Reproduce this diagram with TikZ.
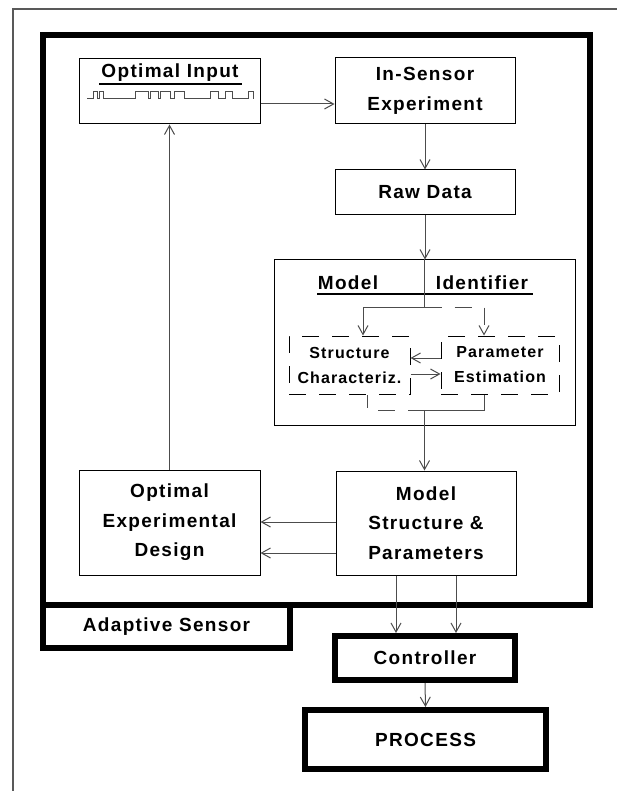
\documentclass[tikz,border=0pt]{standalone}
\usepackage{fontspec}
\setmainfont{Liberation Sans}[LetterSpace=7]
\usetikzlibrary{arrows.meta}
\definecolor{mygray}{rgb}{0.3,0.3,0.3}
\definecolor{myframe}{rgb}{0.35,0.35,0.35}

\begin{document}
\begin{tikzpicture}[x=1pt,y=-1pt,
  box/.style={draw,line width=1pt,align=center,inner sep=0pt,
    font=\bfseries\fontsize{19}{29.5}\selectfont},
  thickbox/.style={box,line width=6pt},
  dbox/.style={draw,line width=1pt,dash pattern=on 17pt off 13pt,align=center,inner sep=0pt,
    font=\bfseries\fontsize{16}{25}\selectfont},
  link/.style={mygray,line width=1pt,-{Straight Barb[length=9pt,width=10pt]}},
  dlink/.style={link,dash pattern=on 17pt off 13pt}]
  \useasboundingbox (0,0) rectangle (617,791);
  \draw[myframe,line width=1.5pt] (13,791) -- (13,9) -- (617,9);
  % adaptive sensor
  \draw[line width=6.5pt] (43,35) rectangle (590,605);
  \node[thickbox,minimum width=247pt,minimum height=43pt] (sensor) at (166.5,626.5) {Adaptive Sensor};
  % optimal input with its test signal
  \node[box,minimum width=181pt,minimum height=65pt] (input) at (169.5,91.5) {};
  \node[font=\bfseries\fontsize{19}{22}\selectfont] (inputtitle) at (170,73) {Optimal Input};
  \draw[line width=2pt] (99,84) -- (242,84);
  \draw[mygray,line width=1pt] (87,99) -| (93,92) -| (97,99) -| (99,92) -| (103,99)
    -| (135,92) -| (148,99) -| (150,92) -| (158,99) -| (160,92) -| (170,99)
    -| (174,92) -| (184,99) -| (210,92) -| (218,99) -| (225,92) -| (232,99)
    -| (248,92) -| (253,99);
  \node[box,minimum width=180pt,minimum height=66pt] (experiment) at (425,91) {In-Sensor\\Experiment};
  \node[box,minimum width=180pt,minimum height=45pt] (rawdata) at (425,192.5) {Raw Data};
  % model identifier
  \node[box,minimum width=301pt,minimum height=165pt] (identifier) at (424.5,342.5) {};
  \node[font=\bfseries\fontsize{19}{22}\selectfont] (idleft) at (348,283) {Model};
  \node[font=\bfseries\fontsize{19}{22}\selectfont] (idright) at (482,283) {Identifier};
  \draw[line width=2pt] (317,294) -- (533,294);
  \node[dbox,minimum width=121pt,minimum height=58pt] (structure) at (349.5,365) {Structure\\Characteriz.};
  \node[dbox,minimum width=118pt,minimum height=58pt] (parameter) at (500,365) {Parameter\\Estimation};
  \coordinate (split) at (424.5,307);
  \coordinate (join) at (424.5,410);
  \node[box,minimum width=181pt,minimum height=105pt] (design) at (169.5,522.5) {Optimal\\Experimental\\Design};
  \node[box,minimum width=180pt,minimum height=104pt] (model) at (426,523) {Model\\Structure \&\\Parameters};
  \node[thickbox,minimum width=180pt,minimum height=44pt] (controller) at (425,658) {Controller};
  \node[thickbox,minimum width=241pt,minimum height=59pt] (process) at (425.5,739.5) {PROCESS};
  % connectors
  \draw[link] ([yshift=-12.5pt]input.east) -- ([yshift=-12.5pt]input.east -| experiment.west);
  \draw[link] (experiment.south) -- (rawdata.north);
  \draw[link] (rawdata.south) -- (rawdata.south |- identifier.north);
  \draw[link] (identifier.north) -- (split) -| ([xshift=13.5pt]structure.north);
  \draw[dlink] (split) -| ([xshift=-16pt]parameter.north);
  \draw[link] ([yshift=7pt]parameter.west) -- ([yshift=7pt]structure.east);
  \draw[link] ([yshift=-9pt]structure.east) -- ([yshift=-9pt]parameter.west);
  \draw[mygray,line width=1pt] ([xshift=-16pt]parameter.south) |- (join);
  \draw[mygray,line width=1pt,dash pattern=on 17pt off 13pt] (join) -| ([xshift=17.5pt]structure.south);
  \draw[link] (join) -- (join |- model.north);
  \draw[link] ([yshift=1pt]model.west) -- ([yshift=1pt]model.west -| design.east);
  \draw[link] ([yshift=-30pt]model.west) -- ([yshift=-30pt]model.west -| design.east);
  \draw[link] (design.north) -- (input.south);
  \draw[link] ([xshift=-30pt]model.south) -- ([xshift=-30pt]model.south |- controller.north);
  \draw[link] ([xshift=30pt]model.south) -- ([xshift=30pt]model.south |- controller.north);
  \draw[link] (controller.south) -- (process.north);
\end{tikzpicture}
\end{document}
